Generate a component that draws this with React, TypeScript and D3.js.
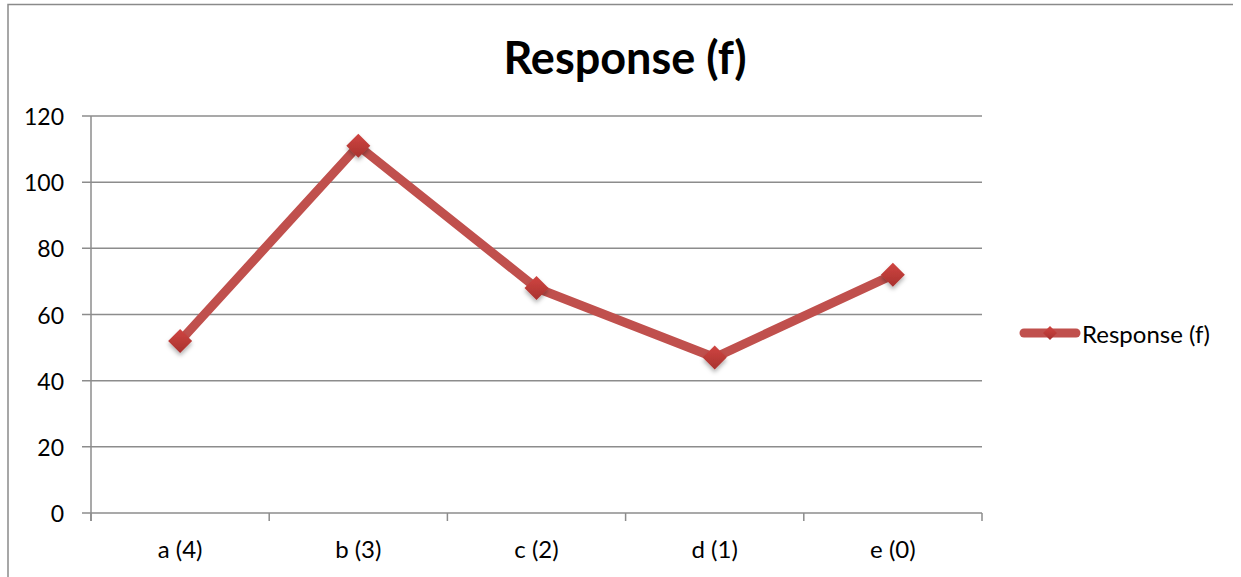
import React from "react";
import * as d3 from "d3";

const categories = ["a (4)", "b (3)", "c (2)", "d (1)", "e (0)"];
const responseValues = [52, 111, 68, 47, 72];
const yTicks = [0, 20, 40, 60, 80, 100, 120];
const seriesName = "Response (f)";
const title = "Response (f)";

const W = 1241;
const H = 577;
const m = { left: 91, right: 982, top: 116, bottom: 513 };
const FONT = "Lato, 'Open Sans', sans-serif";
const RED = "#C0504D";

export default function App() {
  const x = d3.scaleBand<string>().domain(categories).range([m.left, m.right]).padding(0);
  const y = d3.scaleLinear().domain([0, 120]).range([m.bottom, m.top]);
  const cx = (c: string) => (x(c) as number) + x.bandwidth() / 2;
  const line = d3
    .line<number>()
    .x((_, i) => cx(categories[i]))
    .y((d) => y(d));
  const boundaries = categories.map((c) => x(c) as number).concat([m.right]);
  const diamond = (px: number, py: number, r: number) =>
    `M${px},${py - r}L${px + r},${py}L${px},${py + r}L${px - r},${py}Z`;

  return (
    <svg width={W} height={H} style={{ position: "absolute", left: 0, top: 0, background: "#fff" }}>
      <defs>
        <linearGradient id="mk" x1="0" y1="0" x2="0" y2="1">
          <stop offset="0" stopColor="#D04541" />
          <stop offset="1" stopColor="#A8322F" />
        </linearGradient>
        <filter id="sh" x="-50%" y="-50%" width="200%" height="200%">
          <feDropShadow dx="0" dy="3" stdDeviation="2" floodColor="#000" floodOpacity="0.3" />
        </filter>
      </defs>
      {/* chart border */}
      <path d={`M8,${H}L8,4.5L1233,4.5`} fill="none" stroke="#8a8a8a" strokeWidth={1.5} />
      {/* title */}
      <text x={625} y={57} textAnchor="middle" dominantBaseline="central" fontFamily={FONT} fontWeight="bold" fontSize={45} fill="#000">
        {title}
      </text>
      {/* gridlines */}
      {yTicks.map((t) => (
        <line key={t} x1={82} x2={m.right} y1={y(t)} y2={y(t)} stroke="#8c8c8c" strokeWidth={1.5} />
      ))}
      {/* y axis */}
      <line x1={m.left} x2={m.left} y1={m.top} y2={m.bottom + 8} stroke="#8c8c8c" strokeWidth={1.5} />
      {yTicks.map((t) => (
        <text key={t} x={64} y={y(t)} textAnchor="end" dominantBaseline="central" fontFamily={FONT} fontSize={23} fill="#000">
          {t}
        </text>
      ))}
      {/* x ticks */}
      {boundaries.map((b, i) => (
        <line key={i} x1={b} x2={b} y1={m.bottom} y2={m.bottom + 8} stroke="#8c8c8c" strokeWidth={1.5} />
      ))}
      {categories.map((c) => (
        <text key={c} x={cx(c)} y={548} textAnchor="middle" dominantBaseline="central" fontFamily={FONT} fontSize={24} fill="#000">
          {c}
        </text>
      ))}
      {/* series */}
      <path d={line(responseValues) as string} fill="none" stroke={RED} strokeWidth={9} strokeLinejoin="miter" />
      {responseValues.map((v, i) => (
        <path key={i} d={diamond(cx(categories[i]), y(v), 12)} fill="url(#mk)" filter="url(#sh)" />
      ))}
      {/* legend */}
      <line x1={1024} x2={1076} y1={333} y2={333} stroke={RED} strokeWidth={9} strokeLinecap="round" />
      <path d={diamond(1050, 333, 7)} fill="url(#mk)" />
      <text x={1082} y={333} dominantBaseline="central" fontFamily={FONT} fontSize={24} fill="#000">
        {seriesName}
      </text>
    </svg>
  );
}
